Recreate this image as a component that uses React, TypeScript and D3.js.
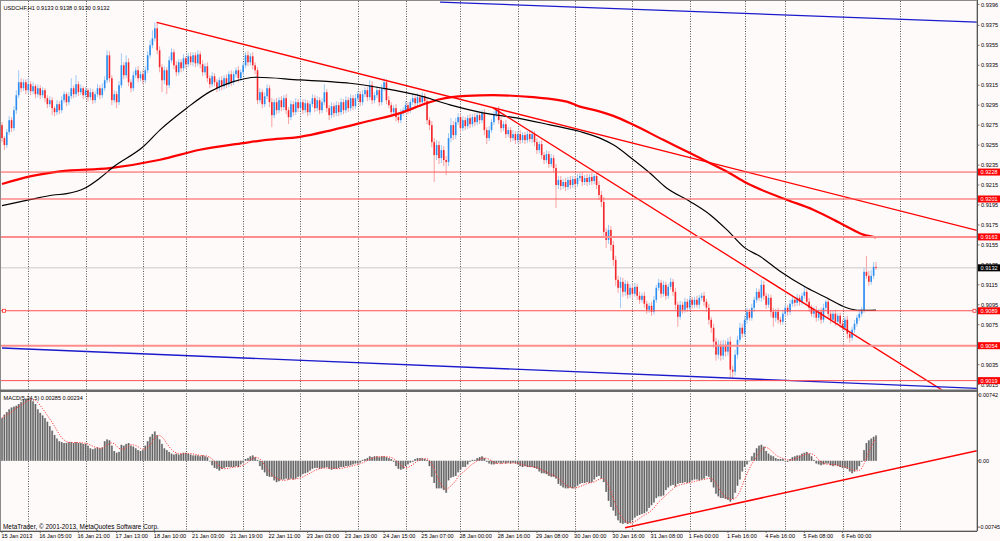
import * as d3 from "d3";

// prices are pips above 0.9000, MACD values in 0.0001 units
const firstOpen = 275;

const closes = [
  262, 255, 268, 280, 272, 290, 305, 318, 312, 318,
  310, 316, 309, 314, 306, 312, 305, 310, 302, 296,
  300, 292, 288, 296, 290, 300, 306, 298, 304, 312,
  306, 316, 308, 312, 305, 310, 303, 308, 300, 306,
  312, 305, 312, 320, 345, 322, 300, 306, 298, 315,
  335, 325, 338, 318, 312, 325, 330, 322, 326, 320,
  330, 345, 355, 362, 372, 350, 333, 320, 330, 315,
  340, 348, 335, 328, 338, 332, 342, 336, 344, 338,
  345, 337, 346, 336, 328, 334, 322, 316, 324, 318,
  312, 320, 314, 322, 316, 326, 318, 326, 330, 322,
  328, 335, 345, 338, 344, 335, 330, 300, 308, 296,
  304, 312, 298, 285, 298, 290, 300, 293, 302, 290,
  283, 296, 288, 298, 292, 298, 290, 297, 288, 296,
  302, 292, 300, 290, 298, 308, 292, 285, 294, 287,
  295, 288, 298, 290, 300, 292, 302, 294, 302, 306,
  298, 306, 310, 303, 315, 300, 305, 310, 298, 312,
  318, 300, 295, 288, 292, 283, 280, 287, 290, 295,
  290, 298, 302, 297, 303, 298, 304, 299, 280, 275,
  258, 245, 255, 242, 250, 240, 238, 262, 275, 265,
  278, 283, 272, 280, 274, 282, 276, 283, 278, 285,
  280, 287, 270, 262, 270, 278, 286, 290, 280, 272,
  276, 266, 270, 262, 266, 260, 266, 260, 265, 260,
  266, 261, 266, 258, 250, 256, 245, 240, 246, 236,
  242, 232, 215, 220, 214, 218, 213, 220, 215, 221,
  216, 222, 224, 218, 222, 218, 223, 219, 224, 215,
  205, 198, 168, 160, 170, 155, 140, 120, 112, 118,
  108, 116, 105, 112, 106, 113, 104, 100, 104, 96,
  90, 94, 88, 100, 112, 117, 106, 115, 104, 113,
  118, 108, 95, 83, 95, 90, 98, 92, 100, 95,
  100, 95, 102, 104, 98, 92, 80, 72, 58, 45,
  55, 44, 55, 48, 58, 30, 28, 45, 60, 72,
  66, 80, 88, 82, 92, 100, 108, 102, 115, 104,
  95, 102, 88, 82, 88, 80, 78, 86, 92, 88,
  96, 100, 97, 102, 98, 104, 108, 98, 92, 86,
  90, 82, 88, 80, 92, 98, 86, 80, 86, 78,
  84, 76, 72, 80, 66, 62, 70, 76, 82, 86,
  90, 128, 124, 118, 124, 133, 132,
];

const hiWick = [
  3, 2, 3, 4, 3, 4, 5, 12, 4, 3,
  3, 6, 3, 4, 2, 4, 3, 3, 2, 3,
  4, 3, 2, 4, 3, 4, 3, 2, 4, 10,
  3, 9, 3, 4, 2, 3, 2, 4, 3, 3,
  4, 3, 5, 4, 5, 4, 3, 4, 3, 4,
  12, 3, 7, 4, 3, 4, 3, 4, 3, 4,
  4, 4, 5, 8, 6, 6, 4, 3, 4, 3,
  4, 4, 3, 4, 3, 3, 4, 2, 3, 4,
  3, 3, 4, 3, 4, 3, 4, 3, 4, 3,
  3, 3, 4, 3, 4, 3, 4, 3, 3, 4,
  3, 3, 3, 4, 3, 4, 3, 3, 4, 3,
  4, 4, 3, 4, 3, 4, 3, 4, 3, 4,
  3, 4, 3, 4, 3, 4, 3, 4, 3, 3,
  4, 3, 4, 3, 4, 8, 3, 3, 4, 3,
  4, 3, 4, 3, 4, 3, 4, 3, 4, 3,
  3, 4, 3, 3, 5, 4, 3, 4, 3, 4,
  4, 3, 4, 3, 3, 4, 3, 4, 3, 4,
  3, 3, 4, 3, 4, 3, 4, 3, 4, 3,
  4, 4, 5, 4, 5, 4, 4, 5, 7, 4,
  4, 4, 3, 4, 3, 3, 4, 3, 4, 3,
  3, 3, 4, 3, 4, 3, 3, 2, 4, 3,
  3, 4, 3, 3, 4, 3, 3, 4, 3, 3,
  3, 3, 4, 3, 4, 3, 4, 3, 4, 3,
  4, 3, 4, 4, 4, 3, 4, 3, 4, 3,
  3, 4, 3, 4, 3, 4, 3, 4, 2, 4,
  4, 4, 5, 4, 5, 4, 4, 4, 4, 5,
  4, 4, 3, 4, 3, 4, 3, 4, 3, 4,
  3, 3, 4, 4, 3, 4, 3, 4, 3, 3,
  4, 3, 4, 3, 4, 3, 4, 3, 4, 3,
  3, 4, 3, 3, 4, 3, 4, 3, 4, 4,
  5, 4, 5, 4, 4, 5, 4, 5, 4, 5,
  4, 4, 4, 3, 4, 3, 4, 3, 5, 4,
  3, 4, 3, 4, 3, 4, 3, 4, 3, 3,
  4, 3, 3, 4, 3, 3, 5, 3, 4, 3,
  3, 4, 3, 4, 4, 2, 4, 3, 3, 4,
  3, 3, 4, 3, 4, 3, 3, 4, 3, 4,
  3, 4, 16, 5, 6, 5, 5,
];

const loWick = [
  4, 5, 3, 3, 4, 3, 4, 3, 4, 3,
  4, 3, 4, 3, 4, 3, 4, 3, 4, 4,
  3, 7, 4, 3, 4, 3, 3, 4, 3, 3,
  4, 3, 4, 3, 4, 3, 4, 3, 4, 3,
  3, 4, 3, 3, 3, 4, 5, 3, 6, 3,
  3, 4, 3, 4, 4, 3, 3, 4, 3, 4,
  3, 3, 3, 3, 3, 4, 5, 12, 4, 9,
  3, 3, 4, 4, 3, 4, 3, 4, 3, 3,
  4, 4, 3, 4, 4, 3, 4, 4, 3, 4,
  4, 3, 4, 3, 4, 3, 4, 3, 3, 4,
  3, 3, 3, 4, 3, 4, 4, 4, 3, 4,
  3, 3, 5, 12, 3, 4, 3, 4, 3, 4,
  7, 3, 4, 3, 4, 3, 4, 3, 4, 3,
  3, 4, 3, 4, 3, 3, 4, 5, 3, 4,
  3, 4, 3, 4, 3, 4, 3, 4, 3, 3,
  4, 3, 3, 4, 3, 4, 3, 3, 4, 3,
  3, 4, 3, 4, 3, 4, 3, 3, 3, 3,
  4, 3, 3, 4, 3, 4, 3, 4, 4, 5,
  5, 27, 5, 6, 5, 6, 13, 4, 4, 5,
  4, 3, 4, 3, 4, 3, 4, 3, 4, 3,
  4, 3, 5, 6, 3, 3, 3, 3, 4, 4,
  3, 4, 3, 4, 3, 4, 3, 4, 3, 4,
  3, 3, 4, 4, 4, 3, 4, 4, 3, 4,
  3, 4, 23, 4, 4, 3, 4, 3, 4, 3,
  4, 3, 3, 4, 3, 4, 3, 4, 3, 4,
  5, 5, 6, 8, 4, 6, 6, 6, 5, 20,
  5, 4, 4, 3, 4, 3, 4, 4, 3, 4,
  4, 3, 4, 3, 3, 3, 4, 3, 4, 3,
  3, 4, 5, 10, 3, 4, 3, 4, 3, 4,
  3, 3, 4, 3, 4, 4, 5, 5, 6, 6,
  4, 5, 4, 5, 4, 8, 6, 4, 4, 3,
  4, 3, 4, 3, 3, 4, 3, 3, 4, 4,
  4, 3, 5, 9, 4, 4, 3, 3, 3, 4,
  3, 3, 4, 3, 4, 3, 3, 4, 4, 3,
  4, 4, 3, 4, 3, 3, 4, 4, 3, 4,
  3, 4, 3, 3, 5, 5, 3, 3, 3, 3,
  3, 3, 3, 4, 3, 3, 2,
];

const macdHist = [
  48, 52, 55, 58, 60, 61, 62, 64, 66, 69,
  70, 70, 69, 67, 64, 58, 54, 51, 48, 44,
  39, 34, 29, 25, 22, 21, 20, 20, 21, 21,
  20, 21, 20, 20, 19, 19, 17, 14, 13, 14,
  15, 14, 15, 22, 24, 23, 17, 11, 9, 10,
  18, 17, 19, 20, 17, 16, 14, 12, 11, 12,
  17, 22, 27, 30, 33, 29, 24, 19, 14, 12,
  10, 8, 7, 8, 7, 8, 9, 9, 8, 7,
  6, 6, 6, 5, 6, 5, 4, 0, -5, -8,
  -9, -11, -9, -8, -7, -7, -7, -7, -6, -7,
  -4, -2, 2, 3, 5, 6, 4, 1, -6, -10,
  -13, -17, -18, -18, -22, -24, -23, -21, -21, -20,
  -21, -20, -21, -20, -18, -17, -15, -14, -13, -11,
  -9, -8, -8, -9, -8, -8, -7, -9, -10, -9,
  -9, -8, -7, -7, -6, -6, -5, -4, -3, -3,
  -2, 1, 2, 3, 5, 4, 5, 5, 4, 5,
  5, 4, 3, 2, -1, -6, -9, -10, -9, -6,
  -4, -2, -1, 2, 3, 3, 3, 2, 1, -6,
  -18, -25, -31, -31, -31, -33, -36, -22, -19, -18,
  -17, -13, -10, -7, -7, -4, -1, 1, 1, 3,
  4, 5, 3, -1, -3, -4, -4, -3, -2, -3,
  -2, -3, -2, -3, -2, -3, -4, -6, -7, -6,
  -7, -7, -7, -8, -9, -12, -14, -14, -15, -17,
  -18, -18, -20, -26, -28, -30, -31, -31, -30, -31,
  -30, -28, -26, -25, -25, -24, -25, -24, -21, -18,
  -17, -20, -24, -35, -45, -52, -56, -62, -67, -70,
  -71, -70, -71, -70, -67, -64, -62, -61, -60, -59,
  -57, -53, -50, -47, -42, -40, -40, -39, -33, -30,
  -28, -27, -29, -26, -25, -25, -24, -25, -24, -22,
  -21, -21, -22, -21, -20, -17, -18, -24, -30, -37,
  -40, -42, -42, -43, -44, -46, -43, -36, -28, -21,
  -12, -7, -4, 0, 5, 9, 14, 17, 18, 16,
  11, 8, 6, 5, 3, 2, 2, 2, 0, -1,
  2, 4, 5, 6, 6, 8, 9, 10, 8, 5,
  1, -3, -4, -5, -4, -3, -3, -5, -6, -5,
  -6, -7, -8, -8, -9, -12, -14, -12, -10, -6,
  -1, 12, 20, 23, 25, 27, 28.5,
];

// moving averages as [bar, pips]
const maSlow: [number, number][] = [
  [0, 216], [11.7, 223.6], [24.3, 228.6], [45.2, 232], [66.2, 240.3],
  [82.9, 250.3], [101, 257], [110.8, 260.3], [124.8, 263.3], [138.6, 270.3],
  [152.7, 278.6], [166.7, 287], [177.8, 297], [183.4, 301], [194.6, 304.3],
  [205.7, 305], [222.4, 303], [236.5, 298.6], [242, 293.6], [249, 289.6],
  [256, 284.3], [264.4, 275.3], [276.9, 260.3], [288.1, 247], [295.1, 238.6],
  [303.5, 228.6], [311.8, 217], [328.6, 200.3], [339.7, 190.3], [352.3, 175.3],
  [360.7, 165.3], [366, 162.6],
];

const maFast: [number, number][] = [
  [0, 194.3], [11.7, 200.3], [21.5, 205], [27.1, 206.3], [34.8, 212],
  [41, 222], [46.6, 233], [59.2, 253.6], [66.2, 270.3], [77.3, 292],
  [87.1, 308.6], [96.9, 318.6], [106.7, 323], [124.8, 320.3], [137.4, 318.6],
  [145.7, 317], [159.5, 312], [173.7, 305.3], [187.6, 295.3], [201.4, 287.3],
  [215.5, 282.3], [229.5, 275.3], [242, 268.6], [250.4, 262], [256, 255.3],
  [264.4, 240.3], [271.3, 227], [278.3, 212], [288.1, 198.6], [296.5, 185.3],
  [303.5, 170.3], [311.1, 152], [317.4, 143.6], [325.8, 128.6], [337, 112],
  [345.3, 102], [353.7, 92], [359.3, 89.3], [366, 89.6],
];

const redTrends: [number, number][][] = [
  [[64.8, 378], [408.3, 169.5]],
  [[205.6, 292.3], [395, 7.6]],
];
const blueTrends: [number, number][][] = [
  [[183.4, 398.3], [408.3, 378.3]],
  [[0, 51.7], [408.3, 11.3]],
];
const macdTrend: [number, number][] = [[260.9, -75.5], [408.3, 11.3]];

const levels = [228, 201, 163, 89, 54, 19];
const bid = 132;

const gridBars = [11, 35, 59, 77, 101, 125, 149, 169, 192, 216, 240, 264, 288, 311, 328, 352, 376];

const timeBars = [0, 16, 32, 48, 64, 80, 96, 112, 128, 144, 160, 176, 192, 208, 224, 240, 256, 272, 288, 304, 320, 336, 352];
const timeLabels = [
  "15 Jan 2013", "16 Jan 05:00", "16 Jan 21:00", "17 Jan 13:00", "18 Jan 10:00",
  "21 Jan 03:00", "21 Jan 19:00", "22 Jan 11:00", "23 Jan 03:00", "23 Jan 19:00",
  "24 Jan 15:00", "25 Jan 07:00", "28 Jan 00:00", "28 Jan 16:00", "29 Jan 08:00",
  "30 Jan 00:00", "30 Jan 16:00", "31 Jan 08:00", "1 Feb 00:00", "1 Feb 16:00",
  "4 Feb 16:00", "5 Feb 08:00", "6 Feb 00:00",
];

const priceTicks = [396, 375, 355, 335, 315, 295, 275, 255, 235, 215, 195, 175, 155, 135, 115, 95, 75, 55, 35, 15];
const macdTicks = [74.2, 0, -74.5];

const FONT = "'Liberation Sans', Arial, sans-serif";

const fmtPrice = (p: number) => (0.9 + p / 10000).toFixed(4);
const fmtMacd = (m: number) => (m === 0 ? "0.00" : (m / 10000).toFixed(5));

export default function App() {
  const W = 1000;
  const H = 541;
  const plotR = 977;
  const mainTop = 1;
  const mainBot = 389.5;
  const macdTop = 392;
  const macdBot = 531;

  const x = d3.scaleLinear().domain([0, 408.3]).range([2, plotR]);
  const y = d3.scaleLinear().domain([8.6, 399.4]).range([391, 1]);
  const ym = d3.scaleLinear().domain([-79.1, 77.5]).range([macdBot, macdTop]);

  const candles = closes.map((c, i) => {
    const o = i === 0 ? firstOpen : closes[i - 1];
    const hi = Math.max(o, c) + (hiWick[i] ?? 3);
    const lo = Math.min(o, c) - (loWick[i] ?? 3);
    return { i, o, c, hi, lo, up: c >= o };
  });

  // signal line of MACD(5,34,5): 5-bar simple average of the histogram
  const signal = macdHist.map((_, i) => d3.mean(macdHist.slice(Math.max(0, i - 4), i + 1)) as number);

  const maLine = d3
    .line<[number, number]>()
    .x((d) => x(d[0]))
    .y((d) => y(d[1]))
    .curve(d3.curveMonotoneX);
  const sigLine = d3
    .line<number>()
    .x((_, i) => x(i))
    .y((d) => ym(d));

  const thick = (v: number) => v === 163 || v === 54;

  return (
    <svg
      width={W}
      height={H}
      style={{ position: "absolute", left: 0, top: 0, background: "#fffafa" }}
      fontFamily={FONT}
    >
      <defs>
        <clipPath id="mainClip">
          <rect x={0} y={mainTop} width={plotR} height={mainBot - mainTop} />
        </clipPath>
        <clipPath id="macdClip">
          <rect x={0} y={macdTop} width={plotR} height={macdBot - macdTop} />
        </clipPath>
      </defs>
      <rect x={0} y={0} width={W} height={H} fill="#fffafa" />

      {/* day separators */}
      {gridBars.map((b) => (
        <line
          key={`g${b}`}
          x1={Math.round(x(b)) + 0.5}
          x2={Math.round(x(b)) + 0.5}
          y1={mainTop}
          y2={macdBot}
          stroke="#555"
          strokeWidth={1}
          strokeDasharray="1 1.5"
        />
      ))}

      <g clipPath="url(#mainClip)">
        <line x1={0} x2={plotR} y1={y(bid)} y2={y(bid)} stroke="#c8c8c8" strokeWidth={1} />

        {candles.map((d) => {
          const bx = x(d.i);
          const top = y(Math.max(d.o, d.c));
          const bot = y(Math.min(d.o, d.c));
          return (
            <g key={`c${d.i}`}>
              <line
                x1={bx}
                x2={bx}
                y1={y(d.hi)}
                y2={y(d.lo)}
                stroke={d.up ? "#9ccbf6" : "#f7a2a2"}
                strokeWidth={1}
              />
              <rect
                x={bx - 0.8}
                y={top}
                width={1.6}
                height={Math.max(1, bot - top)}
                fill={d.up ? "#2b8df0" : "#f2262b"}
              />
            </g>
          );
        })}

        <path d={maLine(maSlow) ?? ""} fill="none" stroke="#ff0000" strokeWidth={2.2} />
        <path d={maLine(maFast) ?? ""} fill="none" stroke="#000" strokeWidth={1.2} />

        {redTrends.map((t, k) => (
          <line
            key={`rt${k}`}
            x1={x(t[0][0])}
            y1={y(t[0][1])}
            x2={x(t[1][0])}
            y2={y(t[1][1])}
            stroke="#ff0000"
            strokeWidth={1.3}
          />
        ))}
        {blueTrends.map((t, k) => (
          <line
            key={`bt${k}`}
            x1={x(t[0][0])}
            y1={y(t[0][1])}
            x2={x(t[1][0])}
            y2={y(t[1][1])}
            stroke="#1a1acc"
            strokeWidth={1.3}
          />
        ))}

        {levels.map((v) => (
          <line
            key={`lv${v}`}
            x1={0}
            x2={plotR}
            y1={y(v)}
            y2={y(v)}
            stroke={thick(v) ? "#ff8c8c" : "#ff5050"}
            strokeWidth={thick(v) ? 2 : 1}
          />
        ))}
        <rect x={2.5} y={y(89) - 1.5} width={3} height={3} fill="#fffafa" stroke="#ff3030" strokeWidth={0.8} />
        <rect x={plotR - 4} y={y(89) - 1.5} width={3} height={3} fill="#fffafa" stroke="#ff3030" strokeWidth={0.8} />
      </g>

      <g clipPath="url(#macdClip)">
        {macdHist.map((m, i) => {
          const top = Math.min(ym(m), ym(0));
          const h = Math.max(0.5, Math.abs(ym(m) - ym(0)));
          return (
            <g key={`h${i}`}>
              <rect x={x(i) - 1.1} y={top} width={2.2} height={h} fill="#b4b4b4" />
              <rect x={x(i) - 0.6} y={top} width={1.2} height={h} fill="#626262" />
            </g>
          );
        })}
        <path
          d={sigLine(signal) ?? ""}
          fill="none"
          stroke="#ff3a3a"
          strokeWidth={1}
          strokeDasharray="1.2 1.4"
        />
        <line
          x1={x(macdTrend[0][0])}
          y1={ym(macdTrend[0][1])}
          x2={x(macdTrend[1][0])}
          y2={ym(macdTrend[1][1])}
          stroke="#ff0000"
          strokeWidth={1.5}
        />
      </g>

      {/* frames */}
      <rect x={0.5} y={0.5} width={plotR - 0.5} height={macdBot - 0.5} fill="none" stroke="#8a8a8a" strokeWidth={1} />
      <rect x={0} y={mainBot} width={plotR} height={macdTop - mainBot} fill="#6a6a6a" />
      <line x1={plotR + 0.5} x2={plotR + 0.5} y1={0} y2={macdBot} stroke="#555" strokeWidth={1} />
      <line x1={0} x2={plotR} y1={macdBot + 0.5} y2={macdBot + 0.5} stroke="#555" strokeWidth={1} />

      {/* price axis */}
      {priceTicks.map((p) => (
        <g key={`pt${p}`}>
          <line x1={plotR} x2={plotR + 2.5} y1={y(p)} y2={y(p)} stroke="#555" strokeWidth={0.8} />
          <text x={981} y={Math.max(6.5, y(p) + 2)} fontSize={5.6} fill="#000">
            {fmtPrice(p)}
          </text>
        </g>
      ))}
      {levels.map((v) => (
        <g key={`ll${v}`}>
          <rect x={978} y={y(v) - 3.5} width={22} height={7} fill="#ff0000" />
          <text x={980.5} y={y(v) + 2} fontSize={5.6} fill="#fff">
            {fmtPrice(v)}
          </text>
        </g>
      ))}
      <rect x={978} y={y(bid) - 3.5} width={22} height={7} fill="#000" />
      <text x={980.5} y={y(bid) + 2} fontSize={5.6} fill="#fff">
        {fmtPrice(bid)}
      </text>

      {/* MACD axis */}
      {macdTicks.map((m) => (
        <g key={`mt${m}`}>
          <line x1={plotR} x2={plotR + 2.5} y1={ym(m)} y2={ym(m)} stroke="#555" strokeWidth={0.8} />
          <text x={978.6} y={ym(m) + 2} fontSize={5.4} fill="#000">
            {fmtMacd(m)}
          </text>
        </g>
      ))}

      {/* time axis */}
      {timeBars.map((b, k) => (
        <g key={`tl${b}`}>
          <line x1={x(b)} x2={x(b)} y1={macdBot} y2={macdBot + 2} stroke="#555" strokeWidth={0.8} />
          <text x={Math.max(1.5, x(b) - 1)} y={538} fontSize={5.6} fill="#000">
            {timeLabels[k]}
          </text>
        </g>
      ))}

      <text x={3.5} y={9.5} fontSize={5.6} fill="#000">
        USDCHF,H1  0.9133 0.9138 0.9130 0.9132
      </text>
      <text x={3.5} y={399.5} fontSize={5.6} fill="#000">
        MACD(5,34,5) 0.00285 0.00234
      </text>
      <text x={3} y={529} fontSize={6.4} fill="#000">
        MetaTrader, © 2001-2013, MetaQuotes Software Corp.
      </text>
    </svg>
  );
}
